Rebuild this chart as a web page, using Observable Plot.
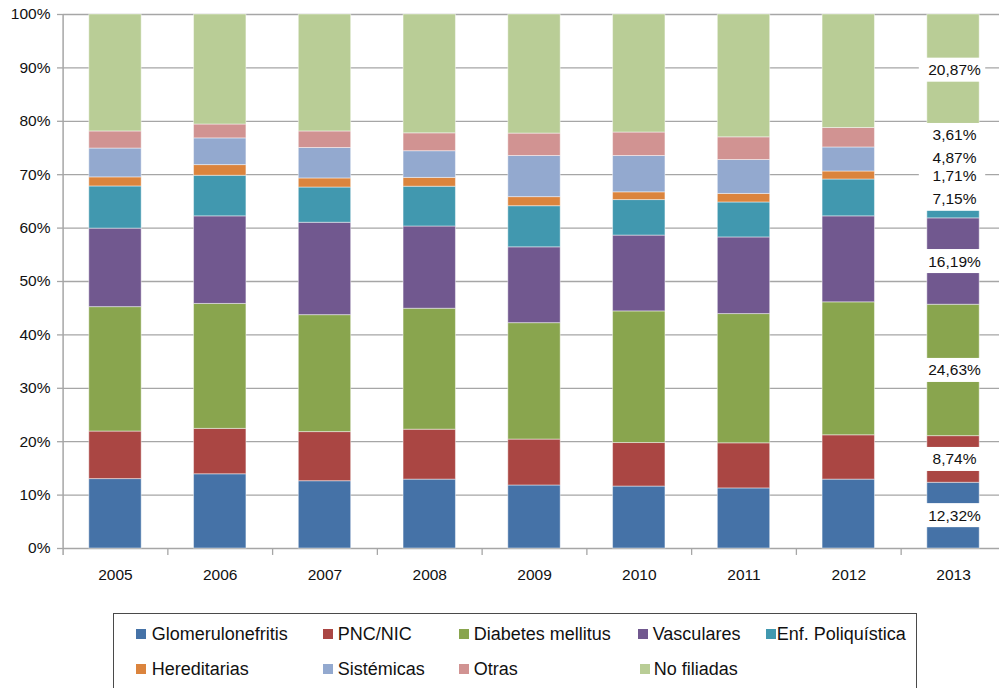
<!DOCTYPE html>
<html>
<head>
<meta charset="utf-8">
<script src="https://cdn.jsdelivr.net/npm/d3@7"></script>
<script src="https://cdn.jsdelivr.net/npm/@observablehq/plot@0.6"></script>
<style>
  html, body { margin: 0; padding: 0; background: #fff; overflow: hidden; }
  #wrap { position: relative; width: 999px; height: 688px; overflow: hidden; font-family: "Liberation Sans", Arial, Helvetica, sans-serif; }
  #legend { position: absolute; left: 113px; top: 613px; width: 804px; height: 110px; border: 1.3px solid #4a4a4a; box-sizing: border-box; background: #fff; }
  .item { position: absolute; display: flex; align-items: center; font-size: 18px; line-height: 18px; color: #111; white-space: nowrap; }
  .sw { width: 10px; height: 10px; display: inline-block; }
</style>
</head>
<body>
<div id="wrap"><div id="chart"></div><div id="legend"></div></div>
<script>
const years = ["2005", "2006", "2007", "2008", "2009", "2010", "2011", "2012", "2013"];
const categories = ["Glomerulonefritis", "PNC/NIC", "Diabetes mellitus", "Vasculares", "Enf. Poliquística", "Hereditarias", "Sistémicas", "Otras", "No filiadas"];
const colors = ["#4572A7", "#AA4643", "#89A54E", "#71588F", "#4198AF", "#DB843D", "#93A9CF", "#D19392", "#B9CD96"];

const glomerulonefritis = [13.0, 13.9, 12.6, 12.9, 11.8, 11.6, 11.25, 12.9, 12.32];
const pncNic           = [8.9, 8.5, 9.2, 9.35, 8.6, 8.15, 8.45, 8.3, 8.74];
const diabetes         = [23.3, 23.4, 21.9, 22.65, 21.8, 24.65, 24.2, 24.9, 24.63];
const vasculares       = [14.7, 16.4, 17.3, 15.4, 14.2, 14.2, 14.35, 16.1, 16.19];
const poliquistica     = [7.9, 7.6, 6.6, 7.45, 7.7, 6.65, 6.55, 6.9, 7.15];
const hereditarias     = [1.7, 2.0, 1.7, 1.65, 1.7, 1.45, 1.6, 1.5, 1.71];
const sistemicas       = [5.4, 5.0, 5.7, 5.0, 7.7, 6.8, 6.35, 4.5, 4.87];
const otras            = [3.2, 2.6, 3.1, 3.35, 4.2, 4.4, 4.25, 3.65, 3.61];
const noFiliadas       = [21.9, 20.6, 21.9, 22.25, 22.3, 22.1, 23.0, 21.25, 20.87];

const yTicks = [0, 0.1, 0.2, 0.3, 0.4, 0.5, 0.6, 0.7, 0.8, 0.9, 1];
const labelYear = "2013";

// legend layout (row, left position of swatch, gap to text)
const legendRow = [0, 0, 0, 0, 0, 1, 1, 1, 1];
const legendLeft = [136, 323, 459, 638, 766, 136, 323, 459, 640];
const legendGap = [6, 5, 5, 5, 1, 6, 5, 5, 4];

const series = [glomerulonefritis, pncNic, diabetes, vasculares, poliquistica, hereditarias, sistemicas, otras, noFiliadas];
const table = [];
years.forEach((year, j) => categories.forEach((category, i) => table.push({year, category, value: series[i][j]})));

// labels for the last year
const jLab = years.indexOf(labelYear);
const labVals = series.map(s => s[jLab]);
const labTotal = d3.sum(labVals);
const labCum = d3.cumsum(labVals);
const labelRows = categories.map((category, i) => ({
  year: labelYear, category, value: labVals[i],
  mid: (labCum[i] - labVals[i] / 2) / labTotal
}));
const fmt = v => v.toFixed(2).replace(".", ",") + "%";

const x0 = 62.6, x1 = 1005.4;
const halfStep = (x1 - x0) / years.length / 2;
const gray = "#a6a6a6";
const tickBottom = -0.013;

const chart = Plot.plot({
  width: 999,
  height: 600,
  marginLeft: 63,
  marginRight: 0,
  marginTop: 14,
  marginBottom: 52,
  style: {fontFamily: "'Liberation Sans', Arial, Helvetica, sans-serif", fontSize: "15.5px", background: "#fff", color: "#111"},
  x: {domain: years, range: [x0, x1], paddingInner: 0.5, paddingOuter: 0.25, round: false, label: null, axis: null},
  y: {domain: [0, 1], label: null, axis: null},
  color: {domain: categories, range: colors},
  marks: [
    Plot.ruleY(yTicks, {stroke: gray, strokeWidth: 1.3}),
    Plot.barY(table, Plot.stackY({
      x: "year", y: "value", fill: "category", z: "category",
      order: categories, offset: "normalize",
      stroke: "#fff", strokeOpacity: 0.45, strokeWidth: 1
    })),
    Plot.barY(labelRows, {x: "year", y1: d => d.mid - 0.0225, y2: d => d.mid + 0.0225, fill: "#fff", insetLeft: -8, insetRight: -6}),
    Plot.text(labelRows, {x: "year", y: "mid", text: d => fmt(d.value), dx: 1, fill: "#111", fontSize: 15.5}),
    Plot.axisY({ticks: yTicks, tickFormat: d3.format(".0%"), tickSize: 6, tickPadding: 7, stroke: gray, strokeWidth: 1.3, fill: "#111", label: null}),
    Plot.axisX({tickSize: 0, tickPadding: 20, fill: "#111", label: null, fontSize: 15.5}),
    Plot.ruleX([years[0]], {x: d => d, y1: () => tickBottom, y2: () => 1, dx: -halfStep, stroke: gray, strokeWidth: 1.5}),
    Plot.ruleX(years.slice(1), {x: d => d, y1: () => tickBottom, y2: () => 0, dx: -halfStep, stroke: gray, strokeWidth: 1.3}),
    Plot.ruleX([years[years.length - 1]], {x: d => d, y1: () => tickBottom, y2: () => 0, dx: halfStep, stroke: gray, strokeWidth: 1.3})
  ]
});
document.getElementById("chart").appendChild(chart);

// legend
const legend = document.getElementById("legend");
const rowCenters = [634, 669];
categories.forEach((c, i) => {
  const it = document.createElement("div");
  it.className = "item";
  it.style.left = (legendLeft[i] - 113 - 1.3) + "px";
  it.style.top = (rowCenters[legendRow[i]] - 613 - 1.3 - 9) + "px";
  const sw = document.createElement("span");
  sw.className = "sw";
  sw.style.background = colors[i];
  sw.style.marginRight = legendGap[i] + "px";
  const tx = document.createElement("span");
  tx.textContent = c;
  it.appendChild(sw);
  it.appendChild(tx);
  legend.appendChild(it);
});
</script>
</body>
</html>
